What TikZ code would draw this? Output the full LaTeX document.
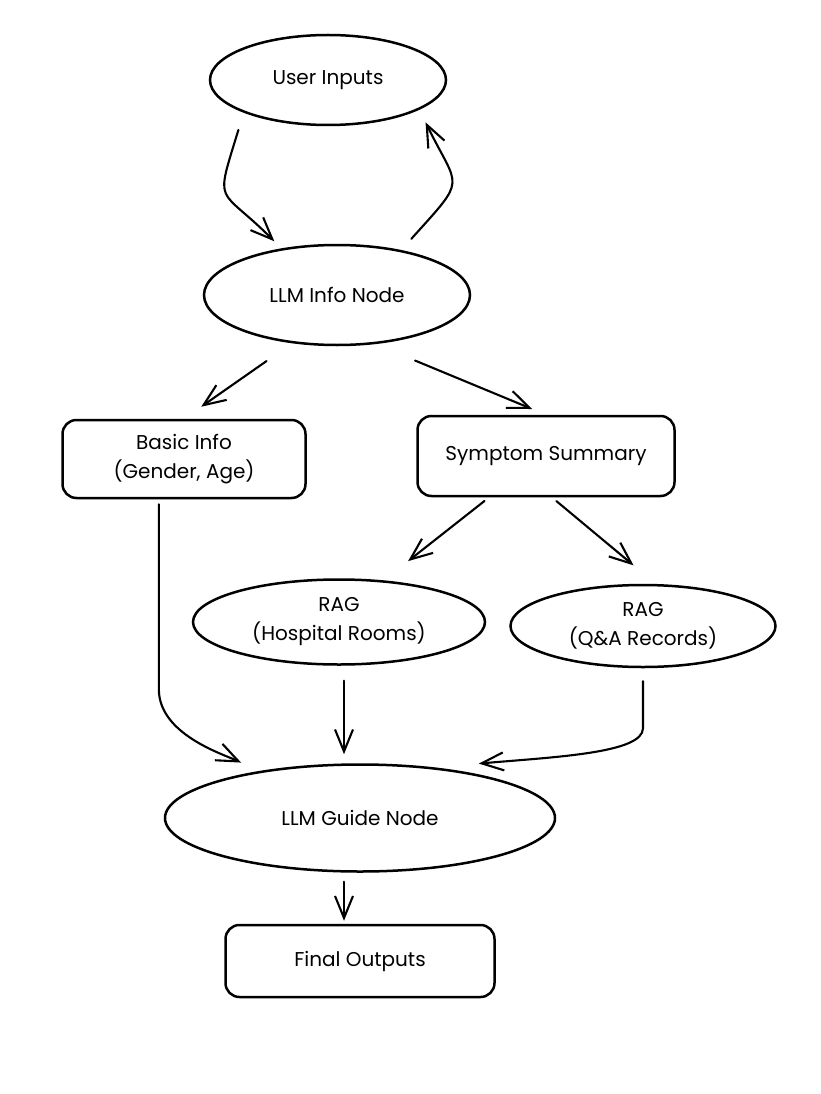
\documentclass[tikz,border=0pt]{standalone}
\usepackage{fontspec}
\setmainfont{Poppins}
\usetikzlibrary{shapes.geometric,arrows.meta}

\begin{document}
\begin{tikzpicture}[x=1pt,y=1pt,line width=2.5pt,
  oval/.style={draw,ellipse,inner sep=0pt,align=center,font=\fontsize{20}{29}\selectfont},
  box/.style={draw,rounded corners=14pt,inner sep=0pt,align=center,font=\fontsize{20}{29}\selectfont},
  link/.style={line width=2.1pt,line cap=round,-{Straight Barb[length=22pt,width=18pt]}}]
\useasboundingbox (0,0) rectangle (820,-1094);

\node[oval,minimum width=236,minimum height=90] (user) at (328,-80) {User Inputs};
\node[oval,minimum width=266,minimum height=100] (info) at (337,-295) {LLM Info Node};
\node[box,minimum width=243,minimum height=78] (basic) at (184,-459) {Basic Info\\(Gender, Age)};
\node[box,minimum width=257,minimum height=80] (symptom) at (546,-456) {Symptom Summary};
\node[oval,minimum width=292,minimum height=85] (rooms) at (339,-622) {RAG\\(Hospital Rooms)};
\node[oval,minimum width=265,minimum height=82] (records) at (643,-626) {RAG\\(Q\&A Records)};
\node[oval,minimum width=390,minimum height=107] (guide) at (360,-818) {LLM Guide Node};
\node[box,minimum width=269,minimum height=72] (final) at (360,-961) {Final Outputs};

% loop between the user and the info node
\draw[link,shorten <=18pt,shorten >=10pt] (user.south west)
  .. controls +(253:100) and +(135:90) .. (info.140);
\draw[link,shorten <=15pt,shorten >=14pt] (info.35)
  .. controls +(48:100) and +(-64:90) .. (user.-18);

\draw[link,shorten <=31pt,shorten >=21pt] (info.227) -- (basic.north);
\draw[link,shorten <=43pt,shorten >=15pt] (info.308) -- (symptom.north);
\draw[link,shorten <=6pt,shorten >=31pt] (symptom.216) -- (rooms.43);
\draw[link,shorten <=6pt,shorten >=29pt] (symptom.278) -- (records.73);

% into the guide node
\draw[link,shorten <=5pt,shorten >=20pt] (basic.238) -- ++(0,-190)
  .. controls +(0,-45) and +(155:40) .. (guide.155);
\draw[link,shorten <=15pt,shorten >=9pt] ([xshift=5]rooms.south) -- ([xshift=-16]guide.north);
\draw[link,shorten <=13pt,shorten >=44pt] (records.south) -- ++(0,-60)
  .. controls +(0,-25) and +(5:120) .. (guide.34);

\draw[link,shorten <=9pt,shorten >=3pt] ([xshift=-16]guide.south) -- ([xshift=-16]final.north);
\end{tikzpicture}
\end{document}
